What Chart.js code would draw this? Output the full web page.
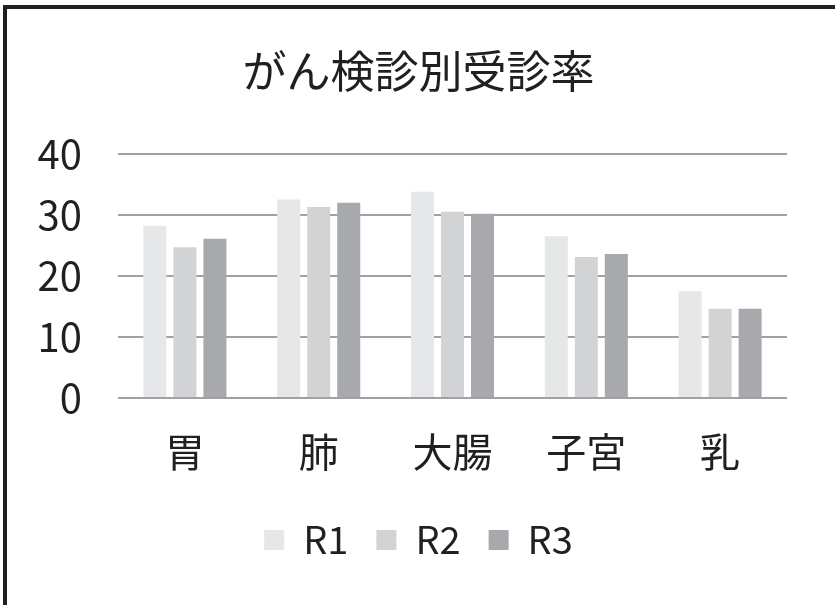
<!DOCTYPE html>
<html>
<head>
<meta charset="utf-8">
<script src="https://cdn.jsdelivr.net/npm/chart.js@4"></script>
<style>
  html, body { margin: 0; padding: 0; background: #ffffff; }
  #wrap { position: relative; width: 835px; height: 605px; }
</style>
</head>
<body>
<div id="wrap"><canvas id="c" width="835" height="605"></canvas></div>
<script>
const categories = ['胃', '肺', '大腸', '子宮', '乳'];
const seriesNames = ['R1', 'R2', 'R3'];
const r1Values = [28.2, 32.5, 33.8, 26.5, 17.5];
const r2Values = [24.7, 31.3, 30.5, 23.1, 14.6];
const r3Values = [26.1, 32.0, 30.2, 23.6, 14.6];
const yTicks = [0, 10, 20, 30, 40];
const titleText = 'がん検診別受診率';

const FONT = '"Noto Sans CJK JP", "Noto Sans", sans-serif';
const TEXT = '#231f20';
const colors = ['#e6e7e8', '#d1d3d4', '#a7a9ac'];

const borderPlugin = {
  id: 'frame',
  afterDraw(chart) {
    const ctx = chart.ctx;
    ctx.save();
    ctx.fillStyle = '#231f20';
    ctx.fillRect(3, 5, 835, 4);
    ctx.fillRect(3, 5, 4, 605);
    ctx.restore();
  }
};

new Chart(document.getElementById('c'), {
  type: 'bar',
  data: {
    labels: categories,
    datasets: [r1Values, r2Values, r3Values].map((vals, i) => ({
      label: seriesNames[i],
      data: vals,
      backgroundColor: colors[i],
      borderWidth: 0,
      categoryPercentage: 0.673,
      barPercentage: 0.767
    }))
  },
  options: {
    responsive: false,
    animation: false,
    devicePixelRatio: 1,
    layout: { padding: { top: 45, left: 2, right: 0, bottom: 36 } },
    plugins: {
      title: {
        display: true,
        text: titleText,
        color: TEXT,
        font: { family: FONT, size: 44, weight: 'normal', lineHeight: 1.2 },
        padding: { top: 0, bottom: 56 }
      },
      legend: {
        display: true,
        position: 'bottom',
        labels: {
          color: TEXT,
          font: { family: FONT, size: 38, weight: 'normal' },
          boxWidth: 20,
          boxHeight: 20,
          padding: 28
        }
      },
      tooltip: { enabled: false }
    },
    scales: {
      x: {
        grid: { display: false, drawTicks: false },
        border: { display: false },
        ticks: {
          color: TEXT,
          font: { family: FONT, size: 40, weight: 'normal', lineHeight: 1.2 },
          padding: 30,
          maxRotation: 0
        },
        afterFit(scale) { scale.height = 95; }
      },
      y: {
        min: 0,
        max: 40,
        afterBuildTicks(scale) { scale.ticks = yTicks.map(v => ({ value: v })); },
        grid: { color: '#9fa1a4', lineWidth: 2, drawTicks: false },
        border: { display: false },
        ticks: {
          color: TEXT,
          font: { family: FONT, size: 40, weight: 'normal' },
          padding: 36
        },
        afterFit(scale) { scale.width = 116; }
      },
      yRight: {
        position: 'right',
        display: true,
        grid: { display: false, drawTicks: false },
        border: { display: false },
        ticks: { display: false },
        afterFit(scale) { scale.width = 48; }
      }
    }
  },
  plugins: [borderPlugin]
});
</script>
</body>
</html>
